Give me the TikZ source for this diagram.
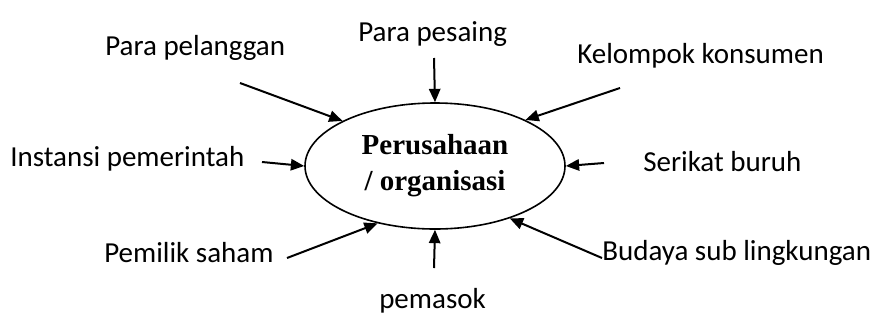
\documentclass[tikz,border=0pt]{standalone}
\usepackage{fontspec}
\setmainfont{Carlito}
\newfontfamily\orgfont{Liberation Serif}
\usetikzlibrary{shapes.geometric,arrows.meta,positioning,calc}

\begin{document}
\begin{tikzpicture}[x=0.75pt, y=-0.75pt]
    % Define styles
    \tikzset{
        factor/.style={anchor=base west, inner sep=0pt, font=\fontsize{21.75}{26}\selectfont},
        org/.style={draw, ellipse, line width=1.2pt, minimum width=195pt, minimum height=94.5pt, inner sep=0pt, align=center, font=\orgfont\bfseries\fontsize{21.75}{27}\selectfont},
        arrow/.style={-{Triangle[length=10pt, width=8.5pt]}, line width=1.5pt}
    }
    \useasboundingbox (0,0) rectangle (877,329);

    % Place nodes
    \node[org] (perusahaan) at (435,166) {Perusahaan\\/ organisasi};
    \node[factor] (pelanggan) at (105,55) {Para pelanggan};
    \node[factor] (pesaing) at (358,41) {Para pesaing};
    \node[factor] (konsumen) at (577,63) {Kelompok konsumen};
    \node[factor] (instansi) at (10,166) {Instansi pemerintah};
    \node[factor] (serikat) at (643,171) {Serikat buruh};
    \node[factor] (pemilik) at (104,262) {Pemilik saham};
    \node[factor] (budaya) at (602,260) {Budaya sub lingkungan};
    \node[factor] (pemasok) at (379,308) {pemasok};

    % Arrow tails
    \coordinate (pelanggan_out) at (240,83);
    \coordinate (pesaing_out) at (434,58);
    \coordinate (konsumen_out) at (620,88);
    \coordinate (instansi_out) at (262,162);
    \coordinate (serikat_out) at (604,163);
    \coordinate (pemilik_out) at (287,258);
    \coordinate (pemasok_out) at (434,268);
    \coordinate (budaya_out) at (602,258);

    % Draw arrows
    \draw[arrow] (pelanggan_out) -- (perusahaan.154);
    \draw[arrow] (pesaing_out) -- (perusahaan.90);
    \draw[arrow] (konsumen_out) -- (perusahaan.27);
    \draw[arrow] (instansi_out) -- (perusahaan.180);
    \draw[arrow] (serikat_out) -- (perusahaan.0);
    \draw[arrow] (pemilik_out) -- (perusahaan.225);
    \draw[arrow] (pemasok_out) -- (perusahaan.270);
    \draw[arrow] (budaya_out) -- (perusahaan.325);
\end{tikzpicture}
\end{document}
